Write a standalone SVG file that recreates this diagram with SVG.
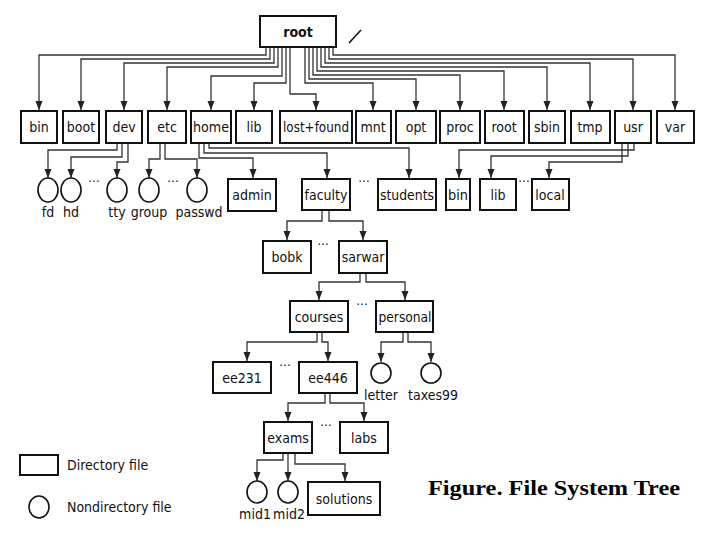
<svg xmlns="http://www.w3.org/2000/svg" width="720" height="540" viewBox="0 0 720 540">
<style>
.b{fill:#fff;stroke:#111;stroke-width:2}
.c{fill:#fff;stroke:#111;stroke-width:1.6}
.t{font-family:"DejaVu Sans Condensed","Liberation Sans",sans-serif;font-stretch:condensed;font-size:14px;fill:#111;text-anchor:middle}
.l{fill:none;stroke:#333;stroke-width:1.3;marker-end:url(#m)}
.d{font-family:"DejaVu Sans","Liberation Sans",sans-serif;font-size:12px;fill:#111;text-anchor:middle}
</style>
<defs><marker id="m" markerWidth="8" markerHeight="10" refX="4" refY="9" markerUnits="userSpaceOnUse"><path d="M0.5,0L7.5,0L4,9Z" fill="#222"/></marker></defs>
<g id="connectors">
<path class="l" d="M266,47V55H39V110"/>
<path class="l" d="M270,47V59H81V110"/>
<path class="l" d="M274,47V63H124V110"/>
<path class="l" d="M278,47V67H167V110"/>
<path class="l" d="M282,47V76H211V110"/>
<path class="l" d="M286,47V83H254V110"/>
<path class="l" d="M290,47V94H316V110"/>
<path class="l" d="M333,47V55H675V110"/>
<path class="l" d="M329,47V59H633V110"/>
<path class="l" d="M325,47V63H590V110"/>
<path class="l" d="M321,47V67H547V110"/>
<path class="l" d="M317,47V71H504V110"/>
<path class="l" d="M313,47V75H460V110"/>
<path class="l" d="M309,47V79H416V110"/>
<path class="l" d="M305,47V83H373V110"/>
<path class="l" d="M117,143V150H48V178"/>
<path class="l" d="M122,143V157H71V178"/>
<path class="l" d="M128,143V162H117V178"/>
<path class="l" d="M160,143V159H149V178"/>
<path class="l" d="M165,143V159H197V178"/>
<path class="l" d="M199,143V158H253V178"/>
<path class="l" d="M204,143V153H327V178"/>
<path class="l" d="M209,143V148H409V178"/>
<path class="l" d="M634,143V150H459V178"/>
<path class="l" d="M628,143V156H491V178"/>
<path class="l" d="M622,143V162H549V178"/>
<path class="l" d="M322,210V221H287V240"/>
<path class="l" d="M329,210V221H363V240"/>
<path class="l" d="M360,273V282H319V300"/>
<path class="l" d="M366,273V282H405V300"/>
<path class="l" d="M317,332V342H247V361"/>
<path class="l" d="M322,332V342H328V361"/>
<path class="l" d="M403,332V342H381V362"/>
<path class="l" d="M408,332V342H431V362"/>
<path class="l" d="M325,393V403H288V421"/>
<path class="l" d="M330,393V403H364V421"/>
<path class="l" d="M283,453V460H257V481"/>
<path class="l" d="M288,453V481"/>
<path class="l" d="M295,453V464H345V481"/>
</g>
<g id="root"><rect class="b" x="260" y="16" width="76" height="31"/><text class="t" x="298" y="37" style="font-weight:bold">root</text></g>
<line x1="349" y1="43" x2="361" y2="30" stroke="#111" stroke-width="1.6"/>
<g id="n-bin"><rect class="b" x="21" y="111" width="36" height="32"/><text class="t" x="39" y="132">bin</text></g>
<g id="n-boot"><rect class="b" x="63" y="111" width="36" height="32"/><text class="t" x="81" y="132">boot</text></g>
<g id="n-dev"><rect class="b" x="106" y="111" width="36" height="32"/><text class="t" x="124" y="132">dev</text></g>
<g id="n-etc"><rect class="b" x="148" y="111" width="38" height="32"/><text class="t" x="167" y="132">etc</text></g>
<g id="n-home"><rect class="b" x="191" y="111" width="40" height="32"/><text class="t" x="211" y="132" textLength="36" lengthAdjust="spacingAndGlyphs">home</text></g>
<g id="n-lib"><rect class="b" x="236" y="111" width="36" height="32"/><text class="t" x="254" y="132">lib</text></g>
<g id="n-lostfound"><rect class="b" x="280" y="111" width="72" height="32"/><text class="t" x="316" y="132" textLength="66" lengthAdjust="spacingAndGlyphs">lost+found</text></g>
<g id="n-mnt"><rect class="b" x="356" y="111" width="35" height="32"/><text class="t" x="373" y="132">mnt</text></g>
<g id="n-opt"><rect class="b" x="396" y="111" width="40" height="32"/><text class="t" x="416" y="132">opt</text></g>
<g id="n-proc"><rect class="b" x="440" y="111" width="40" height="32"/><text class="t" x="460" y="132">proc</text></g>
<g id="n-root2"><rect class="b" x="485" y="111" width="39" height="32"/><text class="t" x="504" y="132">root</text></g>
<g id="n-sbin"><rect class="b" x="529" y="111" width="36" height="32"/><text class="t" x="547" y="132">sbin</text></g>
<g id="n-tmp"><rect class="b" x="571" y="111" width="39" height="32"/><text class="t" x="590" y="132">tmp</text></g>
<g id="n-usr"><rect class="b" x="615" y="111" width="36" height="32"/><text class="t" x="633" y="132">usr</text></g>
<g id="n-var"><rect class="b" x="657" y="111" width="37" height="32"/><text class="t" x="675" y="132">var</text></g>
<g id="f-fd"><ellipse class="c" cx="48" cy="190" rx="10" ry="12"/><text class="t" x="48" y="217">fd</text></g>
<g id="f-hd"><ellipse class="c" cx="71" cy="190" rx="10" ry="12"/><text class="t" x="71" y="217">hd</text></g>
<g id="f-tty"><ellipse class="c" cx="117" cy="190" rx="10" ry="12"/><text class="t" x="117" y="217">tty</text></g>
<g id="f-group"><ellipse class="c" cx="149" cy="190" rx="10" ry="12"/><text class="t" x="149" y="217">group</text></g>
<g id="f-passwd"><ellipse class="c" cx="197" cy="190" rx="10" ry="12"/><text class="t" x="199" y="217">passwd</text></g>
<text class="d" x="94" y="186">···</text>
<text class="d" x="173" y="186">···</text>
<g id="n-admin"><rect class="b" x="228" y="179" width="48" height="32"/><text class="t" x="252" y="200">admin</text></g>
<g id="n-faculty"><rect class="b" x="302" y="179" width="48" height="31"/><text class="t" x="326" y="200">faculty</text></g>
<text class="d" x="364" y="186">···</text>
<g id="n-students"><rect class="b" x="378" y="179" width="58" height="31"/><text class="t" x="407" y="200" textLength="54" lengthAdjust="spacingAndGlyphs">students</text></g>
<g id="n-bin2"><rect class="b" x="446" y="179" width="24" height="31"/><text class="t" x="458" y="200" textLength="20" lengthAdjust="spacingAndGlyphs">bin</text></g>
<g id="n-lib2"><rect class="b" x="480" y="179" width="36" height="31"/><text class="t" x="498" y="200">lib</text></g>
<text class="d" x="524" y="186">···</text>
<g id="n-local"><rect class="b" x="532" y="179" width="37" height="31"/><text class="t" x="550" y="200">local</text></g>
<g id="n-bobk"><rect class="b" x="263" y="241" width="48" height="32"/><text class="t" x="287" y="262">bobk</text></g>
<text class="d" x="323" y="249">···</text>
<g id="n-sarwar"><rect class="b" x="339" y="241" width="48" height="32"/><text class="t" x="363" y="262">sarwar</text></g>
<g id="n-courses"><rect class="b" x="290" y="301" width="58" height="31"/><text class="t" x="319" y="322">courses</text></g>
<text class="d" x="362" y="309">···</text>
<g id="n-personal"><rect class="b" x="376" y="301" width="57" height="31"/><text class="t" x="405" y="322" textLength="53" lengthAdjust="spacingAndGlyphs">personal</text></g>
<g id="n-ee231"><rect class="b" x="213" y="362" width="58" height="31"/><text class="t" x="242" y="383">ee231</text></g>
<text class="d" x="285" y="370">···</text>
<g id="n-ee446"><rect class="b" x="299" y="362" width="58" height="31"/><text class="t" x="328" y="383">ee446</text></g>
<g id="f-letter"><ellipse class="c" cx="381" cy="373" rx="10" ry="10"/><text class="t" x="381" y="400">letter</text></g>
<g id="f-taxes99"><ellipse class="c" cx="431" cy="373" rx="10" ry="10"/><text class="t" x="433" y="400">taxes99</text></g>
<g id="n-exams"><rect class="b" x="264" y="422" width="48" height="31"/><text class="t" x="288" y="443">exams</text></g>
<text class="d" x="326" y="430">···</text>
<g id="n-labs"><rect class="b" x="340" y="422" width="48" height="31"/><text class="t" x="364" y="443">labs</text></g>
<g id="f-mid1"><ellipse class="c" cx="257" cy="492" rx="10" ry="11"/><text class="t" x="255" y="519">mid1</text></g>
<g id="f-mid2"><ellipse class="c" cx="288" cy="492" rx="10" ry="11"/><text class="t" x="289" y="519">mid2</text></g>
<g id="n-solutions"><rect class="b" x="308" y="482" width="72" height="33"/><text class="t" x="344" y="504">solutions</text></g>
<g id="legend">
<rect class="b" x="20" y="455" width="38" height="20"/><text class="t" x="67" y="470" style="text-anchor:start">Directory file</text>
<ellipse class="c" cx="39" cy="507" rx="10" ry="11"/><text class="t" x="67" y="512" style="text-anchor:start">Nondirectory file</text>
</g>
<text x="428" y="495" style="font-family:'Liberation Serif',serif;font-weight:bold;font-size:22px;fill:#000" textLength="252" lengthAdjust="spacingAndGlyphs">Figure. File System Tree</text>
</svg>
